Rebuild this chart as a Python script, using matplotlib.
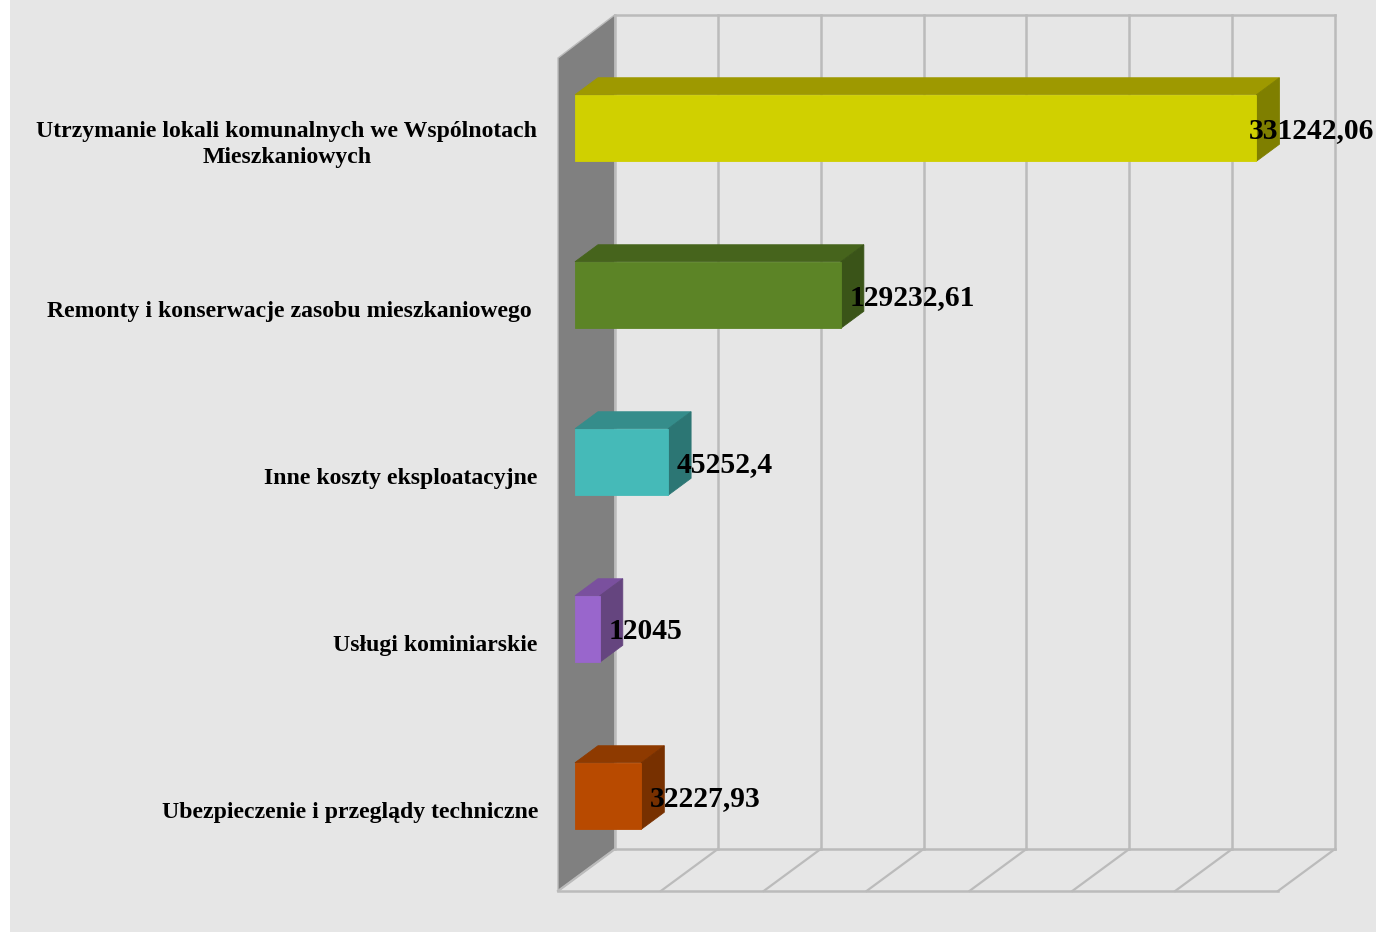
import matplotlib
matplotlib.use("Agg")
import matplotlib.pyplot as plt
from matplotlib.patches import Polygon

categories = [
    "Utrzymanie lokali komunalnych we Wspólnotach\nMieszkaniowych",
    "Remonty i konserwacje zasobu mieszkaniowego ",
    "Inne koszty eksploatacyjne",
    "Usługi kominiarskie",
    "Ubezpieczenie i przeglądy techniczne",
]
values = [331242.06, 129232.61, 45252.4, 12045, 32227.93]
value_labels = ["331242,06", "129232,61", "45252,4", "12045", "32227,93"]
axis_ticks = [0, 50000, 100000, 150000, 200000, 250000, 300000, 350000]

front_colors = ["#D0D000", "#5C8426", "#45BAB8", "#9966CC", "#B84A00"]
top_colors = ["#9E9900", "#46641C", "#358D8B", "#7A509E", "#8E3A00"]
side_colors = ["#7F7F00", "#3A5418", "#2C7674", "#65457F", "#773000"]

W, H = 1376, 932
BG, GRID, WALL = "#E6E6E6", "#BBBBBB", "#808080"

k = 720 / 350000            # pixels per value unit
x0_px = 575                 # pixel of value 0 on the bar plane
y0_px = 128                 # pixel of first category centre
step_px = 167               # pixels per category
left_px = 10


def dx(px):
    return px / k


def dy(px):
    return px / step_px


fig = plt.figure(figsize=(W / 100, H / 100), dpi=100, facecolor="white")
ax = fig.add_axes([left_px / W, 0, 1 - left_px / W, 1], facecolor=BG)
ax.set_xlim((left_px - x0_px) / k, (W - x0_px) / k)
ax.set_ylim((H - y0_px) / step_px, -y0_px / step_px)
ax.axis("off")
ax.add_patch(plt.Rectangle((ax.get_xlim()[0], ax.get_ylim()[1]),
                           (W - left_px) / k, H / step_px, fc=BG, ec="none", zorder=0))

# frame geometry, in data units relative to the bar plane
back_x, front_x = dx(40), dx(-17)
wall_top, wall_bottom = dy(14.7) - dy(y0_px), dy(849) - dy(y0_px)
floor_front, wall_front_top = dy(891) - dy(y0_px), dy(58) - dy(y0_px)
xmax = axis_ticks[-1]

ax.add_patch(Polygon([(back_x, wall_top), (front_x, wall_front_top),
                      (front_x, floor_front), (back_x, wall_bottom)],
                     fc=WALL, ec=GRID, lw=1.0, zorder=1))
glw = 1.8
for t in axis_ticks:
    ax.plot([t + back_x] * 2, [wall_top, wall_bottom], color=GRID, lw=glw, zorder=2,
            solid_capstyle="projecting")
    ax.plot([t + back_x, t + front_x], [wall_bottom, floor_front], color=GRID, lw=1.6, zorder=2)
ax.plot([back_x, xmax + back_x], [wall_top] * 2, color=GRID, lw=glw, zorder=2)
ax.plot([back_x, xmax + back_x], [wall_bottom] * 2, color=GRID, lw=glw, zorder=2)
ax.plot([front_x, xmax + front_x], [floor_front] * 2, color=GRID, lw=glw, zorder=2)

# bars
bar_h = 66.5 / step_px
ddx, ddy = dx(23), dy(17)
for i, v in enumerate(values):
    top, bot = i - bar_h / 2, i + bar_h / 2
    ax.add_patch(Polygon([(0, top), (ddx, top - ddy), (v + ddx, top - ddy), (v, top)],
                         fc=top_colors[i], ec=top_colors[i], lw=0.6, zorder=3))
    ax.add_patch(Polygon([(v, top), (v + ddx, top - ddy), (v + ddx, bot - ddy), (v, bot)],
                         fc=side_colors[i], ec=side_colors[i], lw=0.6, zorder=3))
    ax.barh(i, v, height=bar_h, left=0, color=front_colors[i], edgecolor=front_colors[i],
            linewidth=0.6, zorder=4)

serif = {"family": "Liberation Serif", "weight": "bold", "color": "black", "zorder": 6}

label_right = [537.5, 531.5, 537.5, 537.5, 538.5]
for i, c in enumerate(categories):
    ax.text(dx(label_right[i] - x0_px), i + dy(16.5), c.rstrip(" "), ha="right", va="center",
            multialignment="center", fontsize=17.15, linespacing=1.28, **serif)

value_offset = [-8, 9, 9, 9, 9]
for i, (v, s) in enumerate(zip(values, value_labels)):
    ax.text(v + dx(value_offset[i]), i + dy(2.3), s, ha="left", va="center",
            fontsize=21.3, **serif)

fig.savefig("out.png", dpi=100, facecolor="white")
